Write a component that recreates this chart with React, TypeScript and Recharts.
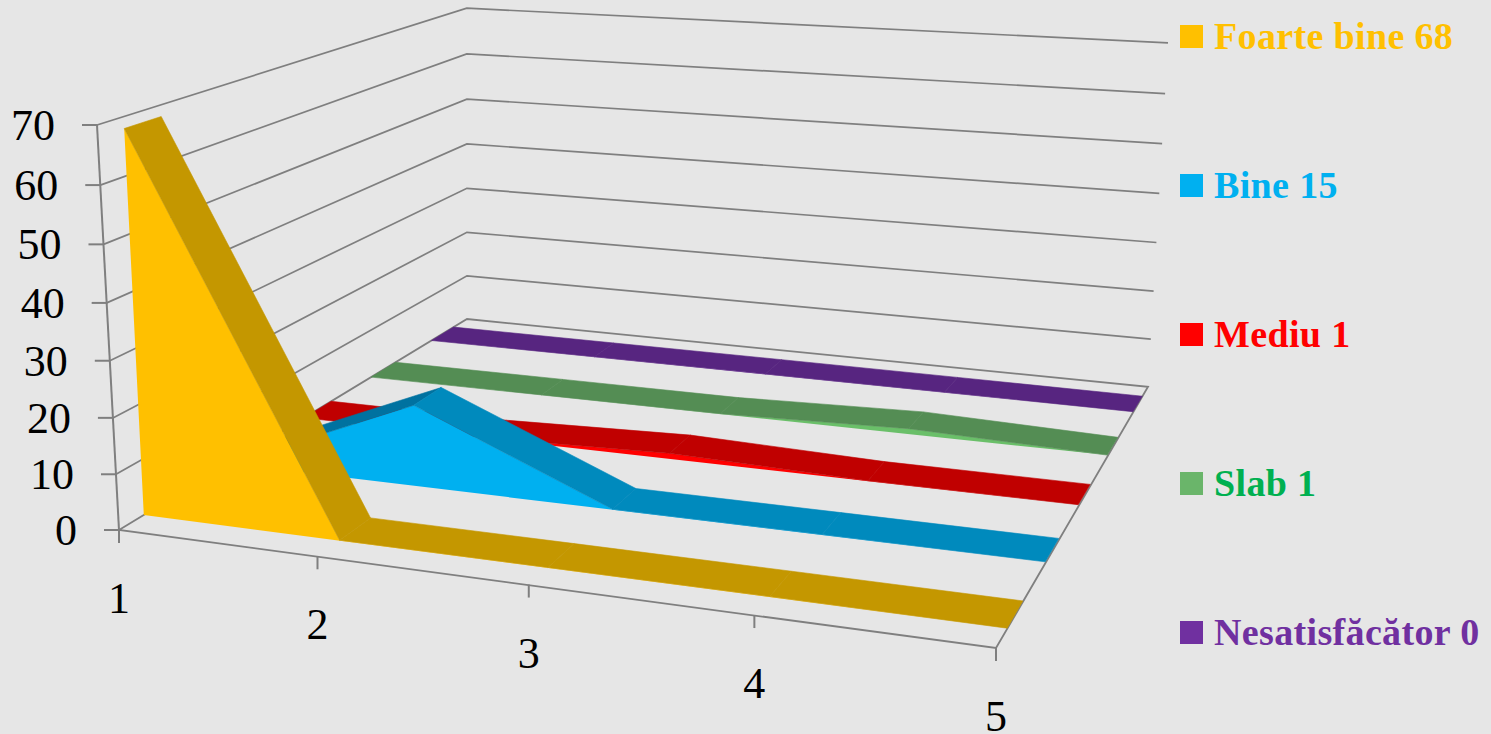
import React from 'react';
import { LineChart, Line, XAxis, YAxis, Legend, CartesianGrid } from 'recharts';

const W = 1491;
const H = 734;

const categories = [1, 2, 3, 4, 5];
const yTicks = [0, 10, 20, 30, 40, 50, 60, 70];

const foarteBine = [68, 0, 0, 0, 0];
const bine = [0, 15, 0, 0, 0];
const mediu = [0, 0, 1, 0, 0];
const slab = [0, 0, 0, 1, 0];
const nesatisfacator = [0, 0, 0, 0, 0];

const seriesNames = ['Foarte bine 68', 'Bine 15', 'Mediu 1', 'Slab 1', 'Nesatisfăcător 0'];
const seriesKeys = ['foarteBine', 'bine', 'mediu', 'slab', 'nesatisfacator'];
const frontColors = ['#FFC000', '#00B0F0', '#FF0000', '#6ABF69', '#7030A0'];
const topColors = ['#C49700', '#008ABD', '#C00000', '#548D54', '#572580'];
const riseColors = ['#A88200', '#0072A0', '#C00000', '#548D54', '#572580'];
const legendColors = ['#FFC000', '#00B0F0', '#FF0000', '#00B050', '#7030A0'];
const legendSwatch = ['#FFC000', '#00B0F0', '#FF0000', '#6AB56A', '#7030A0'];

const tableData = categories.map((c, i) => ({
  name: c,
  foarteBine: foarteBine[i],
  bine: bine[i],
  mediu: mediu[i],
  slab: slab[i],
  nesatisfacator: nesatisfacator[i],
}));

// perspective of the 3D box: u along categories, v up, d into the page, all 0..1
const project = (u: number, v: number, d: number): [number, number] => {
  const w = 1 - 0.14006 * u - 0.04258 * v + 0.31907 * d;
  const x = 737.5 * u - 26.13 * v + 497 * d + 119 + 16 * u * (1 - u) + 6 * v * d * (1 - u);
  const y = 27.24 * u - 410.3 * v - 109.22 * d + 530 + 11 * u * v * d + 8 * u * d * d * (1 - v);
  return [x / w, y / w];
};

const poly = (pts: [number, number][]) => pts.map(p => p.map(n => n.toFixed(1)).join(',')).join(' ');

const gridColor = '#7F7F7F';
const tickFont = { fontFamily: '"Liberation Serif", serif', fontSize: 44, fill: '#000' };

// wall lines, drawn by the grid so they stay behind the series
const GridLine = ({ y1, index }: any) => {
  const v = (H - y1) / H;
  const a = project(0, v, 0);
  const b = project(0, v, 1);
  const c = project(1, v, 1);
  return (
    <g key={index}>
      {v < 0.001 ? (
        <polygon points={poly([a, b, c, project(1, 0, 0)])} fill="none" stroke={gridColor} strokeWidth={1.8} />
      ) : (
        <polyline points={poly([a, b, c])} fill="none" stroke={gridColor} strokeWidth={1.7} />
      )}
      {v > 0.999 && <polyline points={poly([a, project(0, 0, 0)])} fill="none" stroke={gridColor} strokeWidth={2} />}
    </g>
  );
};

const YTick = ({ y, payload }: any) => {
  const v = (H - y) / H;
  const a = project(0, v, 0);
  return (
    <g>
      <line x1={a[0] - 15} y1={a[1]} x2={a[0]} y2={a[1]} stroke={gridColor} strokeWidth={2} />
      <text x={a[0] - 42} y={a[1] + 15} textAnchor="end" {...tickFont}>{payload.value}</text>
    </g>
  );
};

const XTick = ({ x, payload }: any) => {
  const u = x / W;
  const a = project(u, 0, 0);
  return (
    <g>
      <line x1={a[0]} y1={a[1]} x2={a[0]} y2={a[1] + 13} stroke={gridColor} strokeWidth={2} />
      <text x={a[0]} y={a[1] + 83} textAnchor="middle" {...tickFont}>{payload.value}</text>
    </g>
  );
};

// draws one ribbon from the points the Line computed with its scales
const ribbon = (index: number) => (props: any) => {
  const { index: i, points } = props;
  if (i !== 0) return <g key={i} />;
  const d0 = 0.055 + 0.2037 * index;
  const d1 = d0 + 0.08;
  const uv = points.map((p: any) => [p.x / W, (H - p.y) / H]);
  const front: [number, number][] = [
    project(uv[0][0], 0, d0),
    ...uv.map((q: number[]) => project(q[0], q[1], d0)),
    project(uv[uv.length - 1][0], 0, d0),
  ];
  return (
    <g key={i}>
      <polygon points={poly(front)} fill={frontColors[index]} />
      {uv.slice(0, -1).map((q: number[], k: number) => {
        const n = uv[k + 1];
        const quad = [project(q[0], q[1], d0), project(n[0], n[1], d0), project(n[0], n[1], d1), project(q[0], q[1], d1)] as [number, number][];
        const fill = n[1] > q[1] ? riseColors[index] : topColors[index];
        return <polygon key={k} points={poly(quad)} fill={fill} stroke={fill} strokeWidth={0.6} />;
      })}
    </g>
  );
};

// zero sized root so the legend takes no room from the plot
const LegendBlock = () => (
  <div style={{ position: 'relative', width: 0, height: 0 }}>
    {seriesNames.map((name, i) => (
      <div
        key={name}
        style={{
          position: 'absolute',
          left: 1180,
          top: 36 + 149 * i - 20,
          height: 40,
          display: 'flex',
          alignItems: 'center',
          whiteSpace: 'nowrap',
        }}
      >
        <span style={{ width: 23, height: 23, marginRight: 11, background: legendSwatch[i], display: 'inline-block', flex: 'none' }} />
        <span style={{ fontFamily: '"Liberation Serif", serif', fontWeight: 700, fontSize: 38, letterSpacing: 0.35, color: legendColors[i] }}>{name}</span>
      </div>
    ))}
  </div>
);

export default function App() {
  const order = [4, 3, 2, 1, 0];
  return (
    <div style={{ position: 'fixed', left: 0, top: 0, width: W, height: H, background: '#E6E6E6', overflow: 'hidden' }}>
      <LineChart width={W} height={H} data={tableData} margin={{ top: 0, right: 0, bottom: -1, left: -1 }}>
        <CartesianGrid vertical={false} horizontal={GridLine} syncWithTicks />
        <XAxis dataKey="name" height={1} axisLine={false} tickLine={false} tick={<XTick />} interval={0} padding={{ left: 0, right: 0 }} />
        <YAxis width={1} domain={[0, 70]} ticks={yTicks} axisLine={false} tickLine={false} tick={<YTick />} interval={0} />
        {order.map(i => (
          <Line
            key={seriesKeys[i]}
            dataKey={seriesKeys[i]}
            name={seriesNames[i]}
            stroke="none"
            type="linear"
            dot={ribbon(i)}
            activeDot={false}
            isAnimationActive={false}
          />
        ))}
        <Legend content={<LegendBlock />} wrapperStyle={{ left: 0, top: 0, width: 0, height: 0 }} />
      </LineChart>
    </div>
  );
}
